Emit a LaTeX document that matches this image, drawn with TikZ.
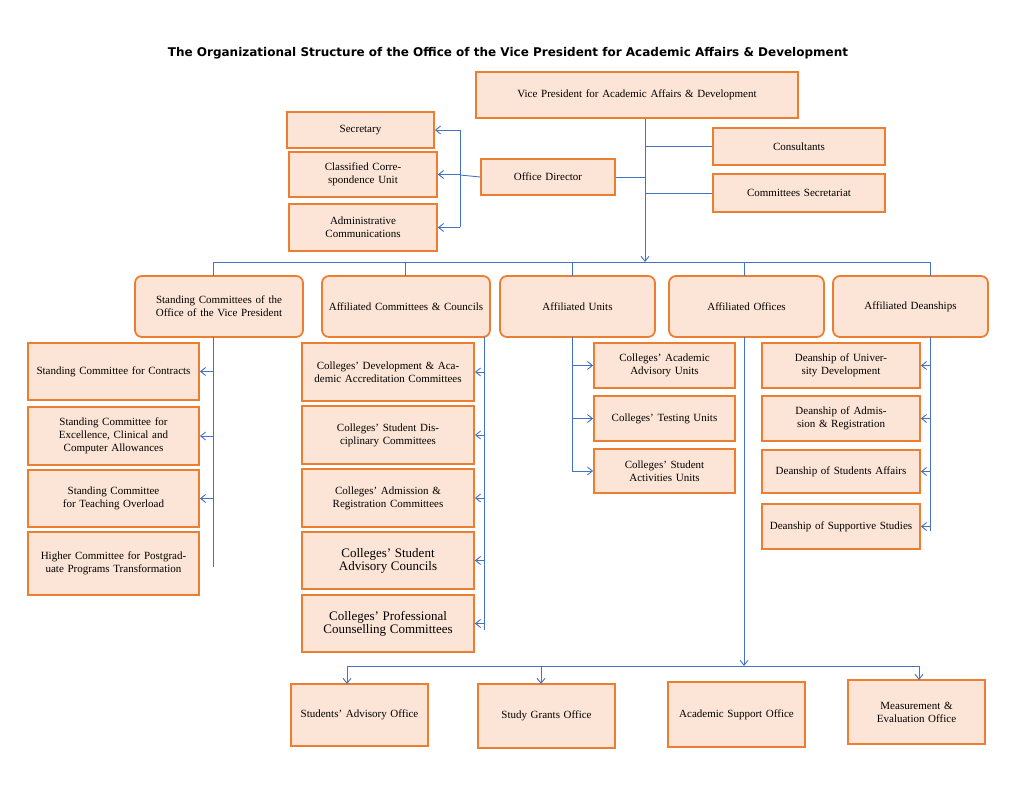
\documentclass[tikz,border=0pt]{standalone}
\usepackage{fontspec}
\setmainfont{Liberation Serif}
\newfontfamily\titlefont{DejaVu Sans}
\usetikzlibrary{arrows.meta}
\definecolor{bfill}{RGB}{252,229,214}
\definecolor{bdraw}{RGB}{237,125,49}
\definecolor{lblue}{RGB}{68,114,196}
\tikzset{
 box/.style={draw=bdraw,fill=bfill,line width=1.8pt,align=center,inner sep=3pt,font=\fontsize{11}{13}\selectfont},
 rbox/.style={box,rounded corners=7pt},
 ln/.style={draw=lblue,line width=0.9pt},
 arr/.style={ln,-{Straight Barb[length=5pt,width=8pt]}}
}
\newcommand\bx[7][box]{\node[#1,minimum width=#5pt-#3pt,minimum height=#6pt-#4pt,text width=#5pt-#3pt-10pt] (#2) at ({(#3+#5)/2},{(#4+#6)/2}) {#7};}
\begin{document}
\begin{tikzpicture}[x=1pt,y=-1pt]
\useasboundingbox (0,0) rectangle (1024,791);
\node[font=\titlefont\bfseries\fontsize{12}{14}\selectfont] (title) at (508,53) {The Organizational Structure of the Office of the Vice President for Academic Affairs \& Development};
\bx{vp}{476}{72}{798}{118}{Vice President for Academic Affairs \& Development\\[8pt]}
\bx{sec}{287}{112}{434}{148}{Secretary\\[6pt]}
\bx{cls}{289}{152}{437}{197}{Classified Correspondence Unit}
\bx{adm}{289}{204}{437}{251}{Administrative Communications}
\bx{od}{481}{159}{615}{195}{Office Director\\[6pt]}
\bx{con}{713}{128}{885}{165}{Consultants\\[6pt]}
\bx{cs}{713}{174}{885}{212}{Committees Secretariat\\[6pt]}
% level 2
\bx[rbox]{sc}{135}{276}{303}{337}{Standing Committees of the Office of the Vice President}
\bx[rbox]{ac}{322}{276}{490}{337}{Affiliated Committees \& Councils}
\bx[rbox]{au}{500}{276}{655}{337}{Affiliated Units}
\bx[rbox]{ao}{669}{276}{824}{337}{Affiliated Offices}
\bx[rbox]{ad}{833}{276}{988}{337}{Affiliated Deanships}
% standing
\bx{s1}{28}{343}{199}{400}{Standing Committee for Contracts\\[6pt]}
\bx{s2}{28}{407}{199}{465}{Standing Committee for Excellence, Clinical and Computer Allowances}
\bx{s3}{28}{470}{199}{527}{Standing Committee for Teaching Overload\\[6pt]}
\bx{s4}{28}{532}{199}{595}{Higher Committee for Postgraduate Programs Transformation}
% committees
\bx{c1}{302}{343}{474}{401}{Colleges' Development \& Academic Accreditation Committees}
\bx{c2}{302}{406}{474}{464}{Colleges' Student Disciplinary Committees\\[6pt]}
\bx{c3}{302}{469}{474}{527}{Colleges' Admission \& Registration Committees}
\bx{c4}{302}{532}{474}{589}{\fontsize{13}{17}\selectfont Colleges' Student Advisory Councils}
\bx{c5}{302}{595}{474}{652}{\fontsize{13}{17}\selectfont Colleges' Professional Counselling Committees}
% units
\bx{u1}{594}{343}{735}{388}{Colleges' Academic Advisory Units}
\bx{u2}{594}{396}{735}{441}{Colleges' Testing Units\\[6pt]}
\bx{u3}{594}{449}{735}{493}{Colleges' Student Activities Units}
% deanships
\bx{d1}{762}{343}{920}{388}{Deanship of University Development}
\bx{d2}{762}{396}{920}{441}{Deanship of Admission \& Registration}
\bx{d3}{762}{450}{920}{493}{Deanship of Students Affairs\\[6pt]}
\bx{d4}{762}{504}{920}{549}{Deanship of Supportive Studies}
% offices
\bx{o1}{291}{684}{428}{746}{Students' Advisory Office\\[6pt]}
\bx{o2}{478}{684}{615}{748}{Study Grants Office\\[14pt]}
\bx{o3}{668}{682}{805}{747}{Academic Support Office\\[6pt]}
\bx{o4}{848}{680}{985}{744}{Measurement \& Evaluation Office\\[6pt]}
% connectors top
\coordinate (vpd) at (645,262);
\draw[arr] (vp.south -| vpd) -- (vpd);
\draw[ln] (con.west -| vpd) -- (con.west);
\draw[ln] (cs.west -| vpd) -- (cs.west);
\draw[ln] (od.east) -- (od.east -| vpd);
\coordinate (br) at (460,175);
\draw[ln] (od.west) -- (br);
\draw[ln] (br |- sec.east) -- (br |- adm.east);
\foreach \b in {sec,cls,adm} \draw[arr] (br |- \b.east) -- (\b.east);
% level-2 bus
\draw[ln] (213,262) -- (930,262);
\foreach \b/\x in {sc/213,ac/405,au/572,ao/744,ad/930} \draw[ln] (\x,262) -- (\x,276);
% standing
\coordinate (sl) at (213,567);
\draw[ln] (213,337) -- (sl);
\foreach \b in {s1,s2,s3} \draw[arr] (213,0 |- \b.east) -- (\b.east);
% committees
\coordinate (cl) at (484,630);
\draw[ln] (484,337) -- (cl);
\foreach \b in {c1,c2,c3,c4,c5} \draw[arr] (484,0 |- \b.east) -- (\b.east);
% units
\draw[ln] (572,337) -- (572,472);
\foreach \b in {u1,u2,u3} \draw[arr] (572,0 |- \b.west) -- (\b.west);
% deanships
\draw[ln] (930,337) -- (930,531);
\foreach \b in {d1,d2,d3,d4} \draw[arr] (930,0 |- \b.east) -- (\b.east);
% offices
\coordinate (ob) at (744,666);
\draw[arr] (744,337) -- (ob);
\draw[ln] (347,666) -- (920,666);
\draw[arr] (347,666) -- (347,684);
\draw[arr] (541,666) -- (541,684);
\draw[arr] (919,666) -- (919,680);
\end{tikzpicture}
\end{document}
